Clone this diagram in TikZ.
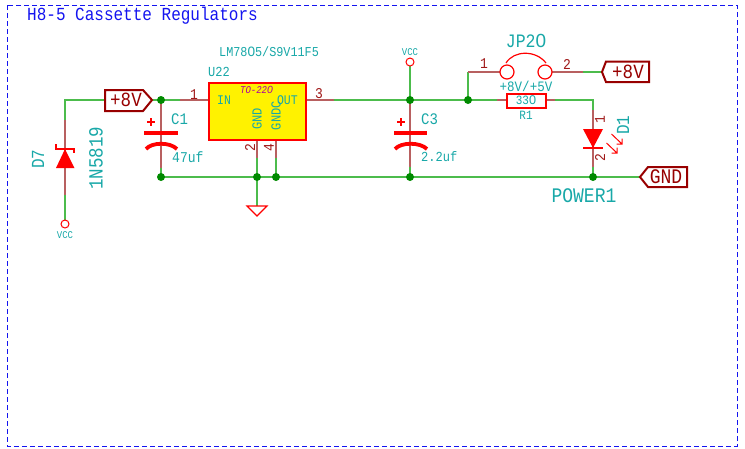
\documentclass[tikz,border=0pt]{standalone}
\usepackage{fontspec}
\setmainfont[FakeStretch=0.87]{Liberation Mono}
\newfontfamily\zerofont{Liberation Sans}
\newfontfamily\zeroitfont[ItalicFont={Liberation Sans Italic}]{Liberation Sans}
\definecolor{wirec}{HTML}{4CBC4C}
\definecolor{pinc}{HTML}{B86060}
\definecolor{numc}{HTML}{A01818}
\definecolor{txtc}{HTML}{18A8A8}
\definecolor{junc}{HTML}{008A00}
\definecolor{labc}{HTML}{980000}
\definecolor{symc}{HTML}{FF0000}
\definecolor{framec}{HTML}{1414F0}
\definecolor{pkgc}{HTML}{A800A0}
\newcommand{\fs}[1]{\fontsize{\dimexpr#1pt*115/100\relax}{\dimexpr#1pt*115/100\relax}\selectfont}
\tikzset{
  wirel/.style={draw=wirec,line width=1.5pt},
  pinl/.style={draw=pinc,line width=1.5pt},
  sym/.style={draw=symc,line width=1.2pt},
  plate/.style={draw=symc,line width=3.8pt},
  junct/.style={circle,fill=junc,inner sep=0pt,minimum size=8pt},
  endp/.style={circle,draw=symc,line width=1pt,fill=white,inner sep=0pt,minimum size=8pt},
  jump/.style={circle,draw=symc,line width=1.2pt,fill=white,inner sep=0pt,minimum size=14pt},
  lab/.style={draw=labc,line width=2pt,line join=miter},
  t/.style={inner sep=0pt,text=txtc},
  num/.style={inner sep=0pt,text=numc,font=\fs{13}},
  labt/.style={inner sep=0pt,text=labc,font=\fs{17.5}},
}
\begin{document}
\begin{tikzpicture}[x=1pt,y=-1pt]
\useasboundingbox (0,0) rectangle (745,448);
\fill[white] (0,0) rectangle (745,448);
\draw[framec,line width=1pt,dash pattern=on 5pt off 3pt] (7,5) rectangle (737,446);
\node[inner sep=0pt,anchor=west,text=framec,font=\fs{16}] (title) at (27,16) {H8-5 Cassette Regulators};
% junctions coordinates
\coordinate (jA) at (161,100);
\coordinate (jB) at (410,100);
\coordinate (jC) at (468,100);
\coordinate (jD) at (257,177);
\coordinate (jE) at (276,177);
\coordinate (jF) at (410,177);
\coordinate (jG) at (593,177);
\coordinate (jH) at (161,177);
% wires
\draw[wirel] (65,120) -- (65,100) -- (jA) -- (180,100);
\draw[wirel] (65,195) -- (65,220);
\draw[wirel] (334,100) -- (jB) -- (jC) -- (497,100);
\draw[wirel] (jC) -- (468,72);
\draw[wirel] (555,100) -- (593,100) -- (593,110);
\draw[wirel] (161,168) -- (jH) -- (jD) -- (jE) -- (jF) -- (jG) -- (640,177);
\draw[wirel] (593,167) -- (jG);
\draw[wirel] (410,167) -- (jF);
\draw[wirel] (257,158) -- (jD) -- (257,206);
\draw[wirel] (276,158) -- (jE);
\draw[wirel] (jB) -- (410,66);
\draw[wirel] (583,72) -- (602,72);
% pins
\draw[pinl] (65,120) -- (65,195);
\draw[pinl] (180,100) -- (208,100);
\draw[pinl] (305,100) -- (334,100);
\draw[pinl] (161,100) -- (161,168);
\draw[pinl] (410,100) -- (410,167);
\draw[pinl] (257,139) -- (257,158);
\draw[pinl] (276,139) -- (276,158);
\draw[pinl] (468,72) -- (500,72);
\draw[pinl] (552,72) -- (583,72);
\draw[pinl] (497,100) -- (506,100);
\draw[pinl] (546,100) -- (555,100);
\draw[pinl] (593,110) -- (593,167);
% chip
\node[draw=symc,line width=2pt,fill=yellow,minimum width=97pt,minimum height=57pt,inner sep=0pt,anchor=north west] (u) at (208,82) {};
\node[t,font=\fs{12},anchor=west] (ref) at (208,72) {U22};
\node[t,font=\fs{11.8},anchor=west] (val) at (219,52) {LM78{\zerofont 0}5/S9V11F5};
\node[t,font=\fs{11.5},anchor=west] (in) at (217,100) {IN};
\node[t,font=\fs{11.5},anchor=east] (out) at (298,100) {OUT};
\node[inner sep=0pt,text=pkgc,font=\fs{9}\itshape] (pkg) at (256.5,90) {TO-22{\zeroitfont\itshape 0}};
\node[t,font=\fs{12},rotate=90,anchor=east] (g1) at (257,108) {GND};
\node[t,font=\fs{12},rotate=90,anchor=east] (g2) at (276,101) {GNDC};
\node[num,rotate=90] (n2) at (250,148) {2};
\node[num,rotate=90] (n4) at (269,148) {4};
\node[num] (n1) at (194,95) {1};
\node[num] (n3) at (319,94) {3};
% D7
\fill[symc] (56,168) -- (74.5,168) -- (65,149) -- cycle;
\draw[sym] (56,144) -- (56,149) -- (74,149) -- (74,153);
\node[endp] (v1) at (65,224) {};
\node[t,font=\fs{9}] (v1t) at (65,235) {VCC};
\node[t,font=\fs{16},rotate=90] (d7) at (38,159) {D7};
\node[t,font=\fs{17.5},rotate=90] (d7v) at (96,158) {1N5819};
% +8V left
\draw[lab,fill=white] (105,90) -- (143,90) -- (152,100) -- (143,111) -- (105,111) -- cycle;
\node[labt] (p8l) at (126,100) {+8V};
% C1
\draw[plate] (144,133) -- (178,133);
\draw[plate] (146,149) .. controls (152,142) and (170,142) .. (177,149);
\draw[symc,line width=1.4pt] (147,122) -- (155,122) (151,118) -- (151,126);
\node[t,font=\fs{14},anchor=west] (c1) at (171,119) {C1};
\node[t,font=\fs{13},anchor=west] (c1v) at (172,157) {47uf};
% GND sym
\draw[sym] (247,206) -- (267,206) -- (257,216) -- cycle;
% C3
\node[endp] (v2) at (410,62) {};
\node[t,font=\fs{9}] (v2t) at (410,52) {VCC};
\draw[plate] (394,133) -- (427,133);
\draw[plate] (395,149) .. controls (401,142) and (420,142) .. (427,149);
\draw[symc,line width=1.4pt] (397,122) -- (405,122) (401,118) -- (401,126);
\node[t,font=\fs{14},anchor=west] (c3) at (421,119) {C3};
\node[t,font=\fs{12},anchor=west] (c3v) at (421,157) {2.2uf};
% JP20
\node[jump] (j1) at (507,72) {};
\node[jump] (j2) at (545,72) {};
\draw[sym] (506,63) .. controls (514,50) and (536,50) .. (546,63);
\node[t,font=\fs{16.5}] (jp) at (526,41) {JP2{\zerofont 0}};
\node[t,font=\fs{12.5}] (jpv) at (526,86) {+8V/+5V};
\node[num] (p1) at (484,64) {1};
\node[num] (p2) at (567,64) {2};
% +8V right
\draw[lab,fill=white] (602,72) -- (606,61.5) -- (649,61.5) -- (649,82) -- (606,82) -- cycle;
\node[labt] (p8r) at (628,72) {+8V};
% R1
\node[draw=symc,line width=2pt,fill=white,minimum width=39pt,minimum height=14pt,inner sep=0pt,text=txtc,font=\fs{11}] (r1) at (526,100.5) {33{\zerofont 0}};
\node[t,font=\fs{11}] (r1t) at (526,115) {R1};
% D1
\fill[symc] (583,129) -- (603,129) -- (593,148) -- cycle;
\draw[sym] (583,148) -- (603,148);
\draw[symc,line width=1pt] (611.5,134) -- (622,144) (622,138.5) -- (622,144) -- (616.5,144);
\draw[symc,line width=1pt] (606.5,143) -- (617,153) (617,147.5) -- (617,153) -- (611.5,153);
\node[num,rotate=90] (d1a) at (600,120) {1};
\node[num,rotate=90] (d1b) at (600,158) {2};
\node[t,font=\fs{16},rotate=90] (d1) at (623,125) {D1};
\node[t,font=\fs{18}] (pw) at (584,196) {POWER1};
% GND label
\draw[lab,fill=white] (640,177) -- (648,167) -- (687,167) -- (687,187) -- (648,187) -- cycle;
\node[labt,font=\fs{18}] (gl) at (666,177) {GND};
% junction dots
\foreach \c in {jA,jB,jC,jD,jE,jF,jG,jH}{\node[junct] at (\c) {};}
\end{tikzpicture}
\end{document}
